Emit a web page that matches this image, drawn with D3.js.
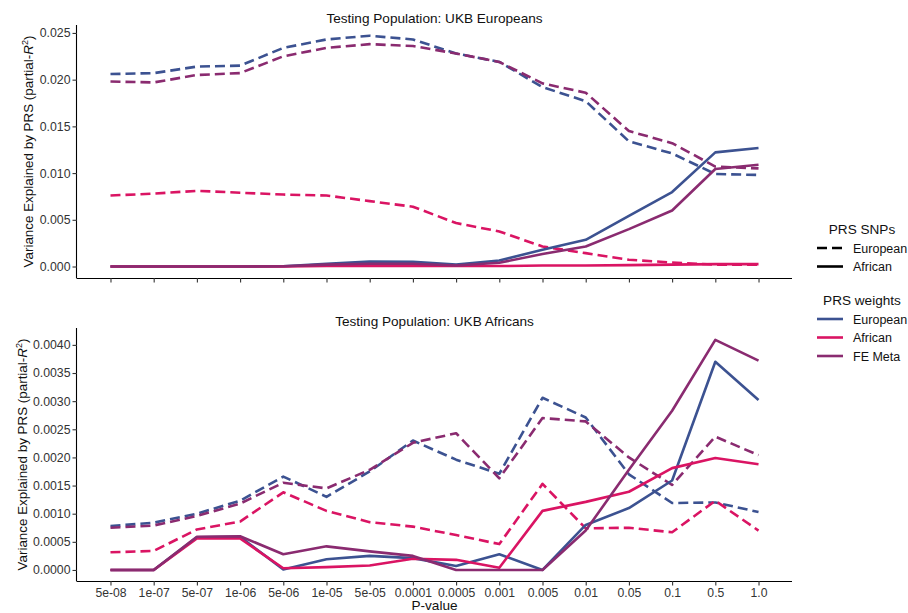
<!DOCTYPE html>
<html>
<head>
<meta charset="utf-8">
<script src="https://cdn.jsdelivr.net/npm/d3@7"></script>
<style>
  body { margin: 0; background: #fff; }
  svg text { font-family: "Liberation Sans", Arial, sans-serif; }
</style>
</head>
<body>
<svg id="chart" width="908" height="613"></svg>
<script>
// P-value thresholds used to build the scores
const thresholds = ["5e-08","1e-07","5e-07","1e-06","5e-06","1e-05","5e-05","0.0001",
                    "0.0005","0.001","0.005","0.01","0.05","0.1","0.5","1.0"];

// Testing population: UKB Europeans (partial R2)
const eurEurSnpEurW = [0.0206,0.0207,0.0214,0.0215,0.0234,0.0243,0.0247,0.0243,0.0228,0.0219,0.0192,0.0177,0.0134,0.0121,0.0099,0.0098];
const eurEurSnpAfrW = [0.0076,0.0078,0.0081,0.0079,0.0077,0.0076,0.0070,0.0064,0.00465,0.00375,0.00214,0.00143,0.00072,0.00043,0.0002,0.0002];
const eurEurSnpMeta = [0.0198,0.0197,0.0205,0.0207,0.0225,0.0234,0.0238,0.0236,0.0228,0.0219,0.0196,0.0186,0.0145,0.0132,0.0107,0.0105];
const eurAfrSnpEurW = [0,0,0,0,0.00003,0.0003,0.00054,0.0005,0.0002,0.00064,0.0018,0.00286,0.00543,0.00797,0.01222,0.01268];
const eurAfrSnpAfrW = [0,0,0,0,0,0.00005,0.00005,0.00005,0.00005,0.00005,0.0001,0.0001,0.00015,0.0002,0.00025,0.00025];
const eurAfrSnpMeta = [0,0,0,0,0.00002,0.0002,0.0003,0.0003,0.0001,0.0004,0.00133,0.00214,0.0040,0.0060,0.01044,0.0109];

// Testing population: UKB Africans (partial R2)
const afrEurSnpEurW = [0.00078,0.00084,0.0010,0.00123,0.00166,0.0013,0.00175,0.0023,0.00196,0.00171,0.00306,0.00271,0.0017,0.00119,0.0012,0.00103];
const afrEurSnpAfrW = [0.000314,0.000338,0.00072,0.00086,0.00138,0.00105,0.00085,0.00077,0.00062,0.00046,0.00153,0.00074,0.00075,0.00067,0.00123,0.0007];
const afrEurSnpMeta = [0.00075,0.00079,0.00096,0.00118,0.00155,0.00145,0.00178,0.00226,0.00243,0.00163,0.0027,0.00264,0.0020,0.00151,0.00237,0.00204];
const afrAfrSnpEurW = [0,0,0.00058,0.00059,0.00001,0.00019,0.00025,0.00021,0.00007,0.00028,0,0.0008,0.0011,0.00159,0.0037,0.00302];
const afrAfrSnpAfrW = [0,0,0.00056,0.00056,0.00003,0.00005,0.00008,0.0002,0.00018,0.00004,0.00105,0.00121,0.00139,0.00181,0.00199,0.00188];
const afrAfrSnpMeta = [0,0,0.00059,0.0006,0.00028,0.00042,0.00033,0.00025,0,0,0,0.0007,0.00178,0.00283,0.00409,0.00372];

const topTicks = [0, 0.005, 0.010, 0.015, 0.020, 0.025];
const bottomTicks = [0, 0.0005, 0.0010, 0.0015, 0.0020, 0.0025, 0.0030, 0.0035, 0.0040];

const weightNames = ["European", "African", "FE Meta"];
const snpNames = ["European", "African"];
const colors = { "European": "#3C5291", "African": "#DA1463", "FE Meta": "#8A2B70" };
const dashes = { "European": "10,5", "African": null };

const svg = d3.select("#chart");
const left = 77, right = 792;

const x = d3.scalePoint().domain(thresholds).range([left, right]).padding(0.775);

function panel(opts) {
  const { top, bottom, domain, ticks, fmt, title, series, showLabels, titleX } = opts;
  const y = d3.scaleLinear().domain(domain).range([bottom, top]);
  const g = svg.append("g");

  // y axis
  const ya = g.append("g").attr("transform", `translate(${left},0)`)
    .call(d3.axisLeft(y).tickValues(ticks).tickFormat(d3.format(fmt)).tickSize(4.5).tickPadding(2));
  ya.select(".domain").attr("d", `M-0.5,${top}V${bottom}`).attr("stroke", "#000").attr("stroke-width", 1.1);
  ya.selectAll(".tick line").attr("stroke", "#333").attr("stroke-width", 1.1);
  ya.selectAll(".tick text").attr("fill", "#333").attr("font-size", 12.3);

  // x axis
  const xa = g.append("g").attr("transform", `translate(0,${bottom})`)
    .call(d3.axisBottom(x).tickSize(4.5).tickPadding(3));
  xa.select(".domain").attr("d", `M${left - 0.5},0.5H${right}`).attr("stroke", "#000").attr("stroke-width", 1.1);
  xa.selectAll(".tick line").attr("stroke", "#333").attr("stroke-width", 1.1);
  xa.selectAll(".tick text").attr("fill", "#333").attr("font-size", 12.2);
  if (!showLabels) xa.selectAll(".tick text").remove();

  // panel title
  g.append("text").attr("x", (left + right) / 2).attr("y", top - 2.5)
    .attr("text-anchor", "middle").attr("font-size", 13.6).attr("fill", "#111").text(title);

  // y axis title
  const yt = g.append("text")
    .attr("transform", `translate(${titleX},${(top + bottom) / 2}) rotate(-90)`)
    .attr("text-anchor", "middle").attr("font-size", 13.4).attr("fill", "#111");
  yt.append("tspan").text("Variance Explained by PRS (partial-");
  yt.append("tspan").attr("font-style", "italic").text("R");
  yt.append("tspan").attr("font-size", 9).attr("dy", -5).text("2");
  yt.append("tspan").attr("dy", 5).text(")");

  const line = d3.line().x((d, i) => x(thresholds[i])).y(d => y(d));
  series.forEach(s => {
    g.append("path").datum(s.values)
      .attr("d", line)
      .attr("fill", "none")
      .attr("stroke", colors[s.weights])
      .attr("stroke-width", 2.6)
      .attr("stroke-linejoin", "round")
      .attr("stroke-dasharray", dashes[s.snps]);
  });
}

panel({
  top: 25, bottom: 278, domain: [-0.00123, 0.02585], ticks: topTicks, fmt: ".3f",
  title: "Testing Population: UKB Europeans", showLabels: false, titleX: 33,
  series: [
    { weights: "European", snps: "European", values: eurEurSnpEurW },
    { weights: "African",  snps: "European", values: eurEurSnpAfrW },
    { weights: "FE Meta",  snps: "European", values: eurEurSnpMeta },
    { weights: "European", snps: "African",  values: eurAfrSnpEurW },
    { weights: "African",  snps: "African",  values: eurAfrSnpAfrW },
    { weights: "FE Meta",  snps: "African",  values: eurAfrSnpMeta }
  ]
});

panel({
  top: 328, bottom: 581, domain: [-0.000196, 0.0043], ticks: bottomTicks, fmt: ".4f",
  title: "Testing Population: UKB Africans", showLabels: true, titleX: 27,
  series: [
    { weights: "European", snps: "European", values: afrEurSnpEurW },
    { weights: "African",  snps: "European", values: afrEurSnpAfrW },
    { weights: "FE Meta",  snps: "European", values: afrEurSnpMeta },
    { weights: "European", snps: "African",  values: afrAfrSnpEurW },
    { weights: "African",  snps: "African",  values: afrAfrSnpAfrW },
    { weights: "FE Meta",  snps: "African",  values: afrAfrSnpMeta }
  ]
});

// x axis title
svg.append("text").attr("x", (left + right) / 2).attr("y", 610)
  .attr("text-anchor", "middle").attr("font-size", 13.6).attr("fill", "#111").text("P-value");

// legends
const lg = svg.append("g");
const keyX0 = 817, keyX1 = 843, textX = 853, titleCx = 862;

lg.append("text").attr("x", titleCx).attr("y", 234).attr("text-anchor", "middle")
  .attr("font-size", 13.6).attr("fill", "#111").text("PRS SNPs");
snpNames.forEach((n, i) => {
  const yy = 248 + i * 18.5;
  lg.append("line").attr("x1", keyX0).attr("x2", keyX1).attr("y1", yy).attr("y2", yy)
    .attr("stroke", "#000").attr("stroke-width", 2.6).attr("stroke-dasharray", dashes[n]);
  lg.append("text").attr("x", textX).attr("y", yy + 4.5).attr("font-size", 12.5)
    .attr("fill", "#111").text(n);
});

lg.append("text").attr("x", titleCx).attr("y", 305).attr("text-anchor", "middle")
  .attr("font-size", 13.6).attr("fill", "#111").text("PRS weights");
weightNames.forEach((n, i) => {
  const yy = 319 + i * 18.5;
  lg.append("line").attr("x1", keyX0).attr("x2", keyX1).attr("y1", yy).attr("y2", yy)
    .attr("stroke", colors[n]).attr("stroke-width", 2.6);
  lg.append("text").attr("x", textX).attr("y", yy + 4.5).attr("font-size", 12.5)
    .attr("fill", "#111").text(n);
});
</script>
</body>
</html>
